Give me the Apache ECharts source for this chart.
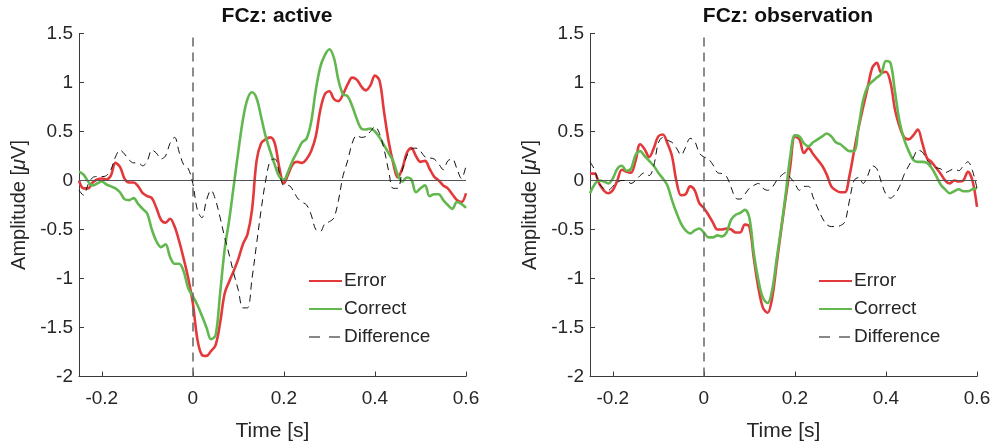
<!DOCTYPE html>
<html>
<head>
<meta charset="utf-8">
<script src="https://cdn.jsdelivr.net/npm/echarts@6/dist/echarts.min.js"></script>
<style>
  html, body { margin: 0; padding: 0; background: #fff; }
  #chart { width: 994px; height: 447px; }
</style>
</head>
<body>
<div id="chart"></div>
<script>
// Sample times (s), 10 ms steps from -0.25 to 0.6
const TIMES = Array.from({ length: 86 }, (_, i) => +(-0.25 + i * 0.01).toFixed(2));

const X_TICKS = [-0.2, 0, 0.2, 0.4, 0.6];
const TITLES = ['FCz: active', 'FCz: observation'];
const SERIES_NAMES = ['Error', 'Correct', 'Difference'];

// FCz: active (µV)
const activeError = [
  0.0, -0.08, -0.08, -0.02, 0.01, 0.02, 0.01, 0.05, 0.18, 0.14,
  0.02, -0.02, -0.02, -0.06, -0.13, -0.16, -0.18, -0.28, -0.4, -0.43,
  -0.39, -0.47, -0.62, -0.8, -1.0, -1.25, -1.62, -1.78, -1.79, -1.74,
  -1.68, -1.45, -1.15, -1.03, -0.92, -0.8, -0.65, -0.55, -0.3, 0.2,
  0.38, 0.42, 0.44, 0.38, 0.13, -0.03, 0.07, 0.17, 0.19, 0.18,
  0.22, 0.3, 0.45, 0.72, 0.88, 0.91, 0.83, 0.81, 0.88, 0.98,
  1.05, 1.03, 0.96, 0.92, 0.97, 1.07, 1.02, 0.7, 0.4, 0.18,
  0.03, 0.12, 0.28, 0.33, 0.25, 0.19, 0.2, 0.12, 0.04, 0.0,
  -0.05, -0.08, -0.14, -0.2, -0.22, -0.13
];
const activeCorrect = [
  0.09, 0.06, -0.01, -0.05, -0.03, -0.01, -0.04, -0.06, -0.08, -0.12,
  -0.19, -0.2, -0.18, -0.24, -0.29, -0.34, -0.5, -0.62, -0.68, -0.65,
  -0.78, -0.85, -0.85, -0.93, -1.1, -1.18, -1.27, -1.38, -1.5, -1.62,
  -1.58, -1.15, -0.7, -0.4, -0.05, 0.3, 0.62, 0.83, 0.9, 0.84,
  0.65, 0.45, 0.3, 0.16, 0.04, 0.01, 0.1, 0.21, 0.3, 0.39,
  0.43, 0.6, 0.92, 1.16, 1.28, 1.34, 1.25, 1.02, 0.88, 0.86,
  0.76, 0.63, 0.53, 0.52, 0.53, 0.5, 0.44, 0.36, 0.28, 0.2,
  0.06, -0.01, 0.03, 0.01, -0.12, -0.08, -0.05, -0.16, -0.14, -0.14,
  -0.2, -0.25, -0.29, -0.22, -0.24, -0.28
];
const activeDifference = [
  -0.1, -0.15, -0.04, 0.03, 0.04, 0.04, 0.05, 0.11, 0.24, 0.31,
  0.27, 0.21, 0.18, 0.18, 0.15, 0.2, 0.31, 0.28, 0.22, 0.25,
  0.38, 0.44, 0.29, 0.16, 0.12, -0.03, -0.3, -0.38, -0.2, -0.1,
  -0.2, -0.38, -0.58, -0.76, -0.95, -1.12, -1.3, -1.3, -1.0, -0.65,
  -0.3, 0.0, 0.2, 0.22, 0.08, -0.05, -0.05, -0.1, -0.18, -0.22,
  -0.25, -0.35, -0.5, -0.52, -0.44, -0.42, -0.38, -0.2, 0.05, 0.2,
  0.38, 0.46, 0.44, 0.45, 0.5, 0.55, 0.48, 0.32, 0.1, -0.08,
  -0.08, 0.1, 0.25, 0.32, 0.33, 0.3, 0.24, 0.23, 0.22, 0.17,
  0.11, 0.2, 0.22, 0.12, 0.02, 0.15
];

// FCz: observation (µV)
const observationError = [
  0.07, 0.07, -0.03, -0.1, -0.13, -0.1, 0.0, 0.11, 0.09, 0.08,
  0.2, 0.37, 0.32, 0.24, 0.33, 0.45, 0.47, 0.38, 0.25, -0.01,
  -0.15, -0.14, -0.06, -0.1, -0.23, -0.28, -0.35, -0.43, -0.5, -0.5,
  -0.49, -0.5, -0.53, -0.53, -0.45, -0.47, -0.8, -1.1, -1.3, -1.35,
  -1.2, -0.85, -0.5, -0.17, 0.15, 0.45, 0.42, 0.28, 0.33, 0.27,
  0.21, 0.15, 0.06, -0.06, -0.1, -0.12, -0.12, 0.05, 0.3, 0.54,
  0.75, 0.95, 1.15, 1.2, 1.1, 1.11, 1.0, 0.72, 0.55, 0.44,
  0.42, 0.46, 0.52, 0.38, 0.23, 0.19, 0.13, 0.07, 0.0, -0.03,
  0.0, -0.01, 0.0, 0.09, 0.0, -0.27
];
const observationCorrect = [
  -0.13, -0.04, 0.0, -0.01, -0.03, 0.02, 0.12, 0.15, 0.1, 0.12,
  0.26, 0.3, 0.25, 0.2, 0.15, 0.08, 0.02, -0.05, -0.2, -0.33,
  -0.44, -0.51, -0.54, -0.51, -0.49, -0.53, -0.58, -0.58, -0.56, -0.57,
  -0.53, -0.4, -0.35, -0.33, -0.3, -0.38, -0.75, -1.02, -1.2, -1.25,
  -1.12, -0.8, -0.48, -0.13, 0.25, 0.46, 0.45, 0.38, 0.35, 0.39,
  0.42, 0.45, 0.48, 0.45, 0.39, 0.37, 0.33, 0.3, 0.3, 0.55,
  0.82, 0.96, 1.01, 1.05, 1.09, 1.22, 1.2, 0.9, 0.6, 0.42,
  0.3, 0.21, 0.19, 0.19, 0.18, 0.13, 0.05, -0.04, -0.09, -0.13,
  -0.11, -0.09, -0.11, -0.11, -0.09, -0.08
];
const observationDifference = [
  0.19, 0.11, -0.03, -0.08, -0.1, -0.06, -0.02, 0.0, 0.0, -0.03,
  0.0, 0.05, 0.08, 0.05, 0.15, 0.38, 0.44, 0.41, 0.39, 0.33,
  0.26, 0.34, 0.43, 0.4, 0.28, 0.24, 0.22, 0.16, 0.08, 0.07,
  0.04, -0.07, -0.18, -0.19, -0.14, -0.08, -0.05, -0.03, -0.08, -0.1,
  -0.07, 0.0, 0.05, 0.08, 0.03, -0.03, -0.1, -0.06, -0.06, -0.17,
  -0.28, -0.38, -0.45, -0.47, -0.47, -0.46, -0.42, -0.2, 0.0, 0.03,
  -0.03, 0.05, 0.15, 0.12, -0.02, -0.14, -0.18, -0.14, -0.06, 0.06,
  0.15, 0.23, 0.31, 0.29, 0.21, 0.16, 0.13, 0.12, 0.08, 0.1,
  0.12, 0.1, 0.15, 0.19, 0.1, -0.08
];

const PANELS = [
  [activeError, activeCorrect, activeDifference],
  [observationError, observationCorrect, observationDifference]
];

const FONT = '"Liberation Sans", Arial, sans-serif';
const AXIS_COLOR = '#3a3a3a';
const TEXT_COLOR = '#262626';
const COLORS = ['#e3393a', '#62b84f', '#111111'];

const grids = [
  { left: 79, right: 528, top: 33.5, bottom: 70.5 },
  { left: 590, right: 17, top: 33.5, bottom: 70.5 }
];

function fmt(v) {
  return String(+v.toFixed(2));
}

const xAxes = grids.map((g, i) => ({
  type: 'value', gridIndex: i, min: -0.25, max: 0.6,
  name: 'Time [s]', nameLocation: 'middle', nameGap: 44,
  nameTextStyle: { fontFamily: FONT, fontSize: 21, color: TEXT_COLOR },
  axisLine: { onZero: false, lineStyle: { color: AXIS_COLOR, width: 1 } },
  axisTick: { inside: true, length: 5, customValues: X_TICKS, lineStyle: { color: AXIS_COLOR } },
  axisLabel: { customValues: X_TICKS, formatter: fmt, margin: 13,
    fontFamily: FONT, fontSize: 19, color: TEXT_COLOR },
  splitLine: { show: false }
}));

const yAxes = grids.map((g, i) => ({
  type: 'value', gridIndex: i, min: -2, max: 1.5, interval: 0.5,
  name: 'Amplitude [{i|\u03bc}V]', nameLocation: 'middle', nameGap: 50, nameRotate: 90,
  nameTextStyle: { fontFamily: FONT, fontSize: 20, color: TEXT_COLOR,
    rich: { i: { fontFamily: FONT, fontSize: 20, fontStyle: 'italic', color: TEXT_COLOR } } },
  axisLine: { show: true, onZero: false, lineStyle: { color: AXIS_COLOR, width: 1 } },
  axisTick: { show: true, inside: true, length: 5, lineStyle: { color: AXIS_COLOR } },
  axisLabel: { formatter: fmt, margin: 6, fontFamily: FONT, fontSize: 19, color: TEXT_COLOR },
  splitLine: { show: false }
}));

const series = [];
PANELS.forEach((panel, p) => {
  panel.forEach((vals, k) => {
    const s = {
      name: SERIES_NAMES[k], type: 'line', xAxisIndex: p, yAxisIndex: p,
      data: TIMES.map((t, i) => [t, vals[i]]),
      symbol: 'none', smooth: 0.35, silent: true, animation: false,
      color: COLORS[k],
      lineStyle: k === 2
        ? { color: COLORS[k], width: 1, type: [7, 5] }
        : { color: COLORS[k], width: 2.6 },
      z: 3 + k
    };
    // reference lines (zero baseline and stimulus onset) drawn above the traces
    if (k === 2) {
      s.markLine = {
        silent: true, symbol: 'none', animation: false, label: { show: false },
        data: [
          { yAxis: 0, lineStyle: { color: '#555', width: 1, type: 'solid' } },
          { xAxis: 0, lineStyle: { color: '#666', width: 1.5, type: [9, 6] } }
        ]
      };
    }
    series.push(s);
  });
});

const legends = [303, 813].map(left => ({
  orient: 'vertical', left: left, top: 266,
  itemWidth: 33, itemHeight: 20, itemGap: 8,
  data: [
    { name: 'Error' },
    { name: 'Correct' },
    { name: 'Difference', lineStyle: { type: [11, 9], width: 1.2 } }
  ],
  itemStyle: { opacity: 0 },
  textStyle: { fontFamily: FONT, fontSize: 19, color: TEXT_COLOR, lineHeight: 20, padding: [0, 0, 0, -3] },
  selectedMode: false
}));

const titles = [272, 783].map((x, i) => ({
  text: TITLES[i], left: x, top: 1, textAlign: 'center',
  textStyle: { fontFamily: FONT, fontSize: 21, fontWeight: 'bold', color: '#111' }
}));

const chart = echarts.init(document.getElementById('chart'), null, { renderer: 'canvas' });
chart.setOption({
  animation: false,
  backgroundColor: '#fff',
  title: titles,
  legend: legends,
  grid: grids,
  xAxis: xAxes,
  yAxis: yAxes,
  series: series
});
</script>
</body>
</html>
